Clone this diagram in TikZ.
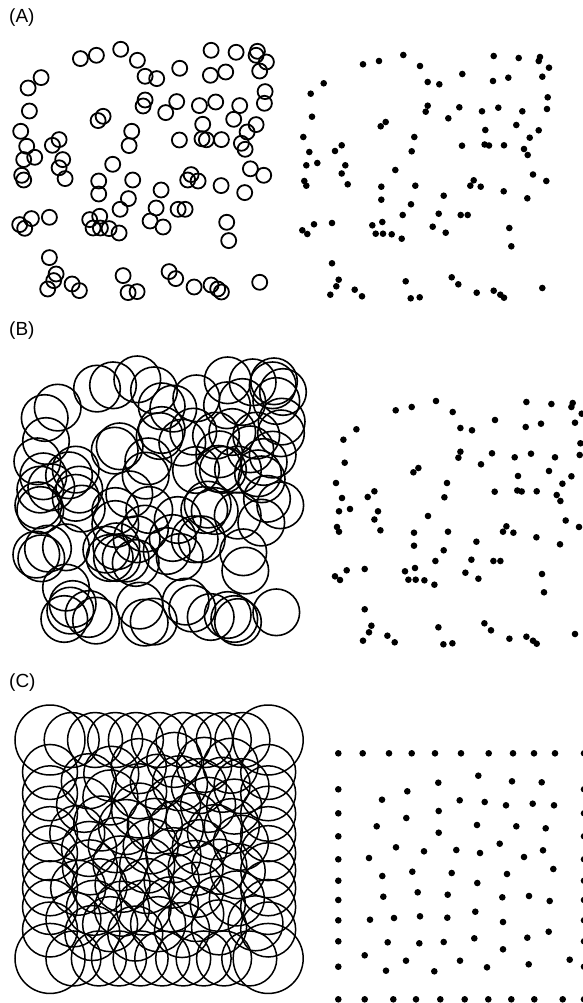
\documentclass[tikz,border=0pt]{standalone}
\usepackage{fontspec}
\setmainfont{Liberation Sans}
\usetikzlibrary{positioning}

% sample positions (pixels), shared by panels A and B
\def\ptsAB{363/64.3, 379/61, 403.3/55, 420/66, 493.7/56, 518.7/58, 540/57, 538.7/61, 549/67.7,
  323.7/83.3, 462.3/74, 427.7/82, 439.3/84.3, 493/81, 508.3/77.7, 542.3/76.7, 310.7/93.7,
  547.7/97.3, 427.7/105.7, 425.7/111.7, 459.3/107.3, 482/111.3, 498.3/107.7, 522.3/111.3,
  547/109, 312/116.7, 448.3/118.3, 385.7/122, 380.7/126.3, 516.3/125, 485.3/130, 538.7/130.3,
  303.3/137, 414.3/137, 529.7/137.7, 341.7/145.3, 335/151, 309.3/152, 411.7/151.3, 462/145.7,
  484.6/144.5, 489/145.5, 504/145.3, 524/149, 527.7/155, 317.3/163, 306.3/165.3, 345.3/165.3,
  341.7/173.5, 395.3/170, 533/174.5, 304.3/181, 306.3/185.7, 347.7/184.3, 381.3/186.7,
  415.3/185.7, 473.7/180.3, 470.3/185.7, 480.7/186.7, 546.3/181, 503.7/191.3, 443.7/195.7,
  527.3/198.3, 381.3/199.7, 411/204.3, 402.7/215, 438.7/213.7, 460.7/215, 467.7/215, 332/223,
  314/224.3, 302.3/230.3, 307.3/234, 372.3/225.3, 382.3/222, 375.7/233.7, 383/233.7,
  391.7/234.3, 401.7/238.7, 432.7/226.7, 445.7/232.7, 509.3/228, 511.3/246.3, 332/263.3,
  338.7/279.7, 336.3/286.3, 330.3/294.7, 354.7/289.7, 362/296.3, 405.7/281.3, 410.7/298.3,
  419.7/297.3, 451.7/277.3, 458.3/284.3, 476.7/292.7, 493.7/290.7, 500.3/294.7, 504/297.7,
  542.3/288}

% near-regular positions for panel C (corners kept apart)
\def\ptsC{362.7/753.3, 389/753.3, 411.7/753.3, 435/753.3, 461/753.3, 488.7/753.3, 513/753.3,
  534/753.3, 555/753.3, 478.3/775.7, 438.3/782.7, 512/781.3, 541.7/782.3, 338.3/789.3,
  407.3/791.3, 382/799.7, 459.7/800.3, 484.7/802, 506/805.3, 532.7/803.7, 554/805.3,
  338.3/813.3, 438.7/811, 406.3/818, 376.7/826.3, 477/825, 516.3/826.3, 545.7/828.3,
  338.3/836.3, 438.7/832.7, 396/847.3, 424/851.3, 456.3/850, 480/853, 499.7/843.7, 543/850.3,
  338.3/859.3, 369/858, 524/857, 553.3/869, 412.3/871.7, 451.7/873, 338.3/880.7, 382.3/876,
  477.3/883, 507/874, 338.3/900, 383.3/896.7, 417.7/892.3, 447.7/894.7, 502.3/897.3, 529/896,
  549.7/901, 338.3/920.3, 370/919.7, 394/918, 420/916.3, 447.3/917.7, 475.3/911.7, 503/922,
  338.3/941.3, 387.7/942.3, 419.3/943.3, 443.7/942, 474.3/938.3, 503/949.3, 527.3/937.7,
  548.7/931.7, 364.7/955.3, 406/960.7, 460/960.7, 338.3/966.7, 386/970.7, 434.3/971.3,
  487/967.3, 528.7/964.3, 569.7/959.7, 364.7/999.3, 393.3/999.3, 416/999.3, 440.3/999.3,
  464.7/999.3, 488.3/999.3, 511.3/999.3, 534.3/999.3, 562.7/999.3, 584/789.3, 584/813.3,
  584/836.3, 584/859.3, 584/880.7, 584/900, 584/920.3, 584/941.3, 584/966.7}
\def\cornersC{338.3/753.3, 584/753.3, 338.3/999.3, 584/999.3}

\begin{document}
\begin{tikzpicture}[x=1pt, y=-1pt,
  ring/.style={draw=black, line width=1.6pt},
  blob/.style={fill=black},
  panellabel/.style={font=\fontsize{19}{22}\selectfont, inner sep=0pt, anchor=west}]

\useasboundingbox (0,0) rectangle (582,1003);

% --- Panel A: small discs ---
\node[panellabel] (labA) at (9,18) {(A)};
\foreach \x/\y in \ptsAB {
  \draw[ring, line width=1.8pt] ({\x-282.6},{\y-5.7}) circle (7.5);
  \fill[blob] (\x,\y) circle (3.3);
}

% --- Panel B: large discs ---
\node[panellabel] (labB) at (9,331) {(B)};
\foreach \x/\y in \ptsAB {
  \draw[ring] ({\x-266},{\y+324.3}) circle (23.3);
  \fill[blob] ({\x+32.7},{\y+346}) circle (3.3);
}

% --- Panel C: regular layout ---
\node[panellabel] (labC) at (9,683) {(C)};
\foreach \x/\y in \ptsC {
  \draw[ring, line width=1.5pt] ({50+0.888*(\x-338.3)},{740+0.888*(\y-753.3)}) circle (27.5);
  \fill[blob] (\x,\y) circle (3.3);
}
\foreach \x/\y in \cornersC {
  \draw[ring, line width=1.5pt] ({50+0.888*(\x-338.3)},{740+0.888*(\y-753.3)}) circle (35);
  \fill[blob] (\x,\y) circle (3.3);
}

\end{tikzpicture}
\end{document}
